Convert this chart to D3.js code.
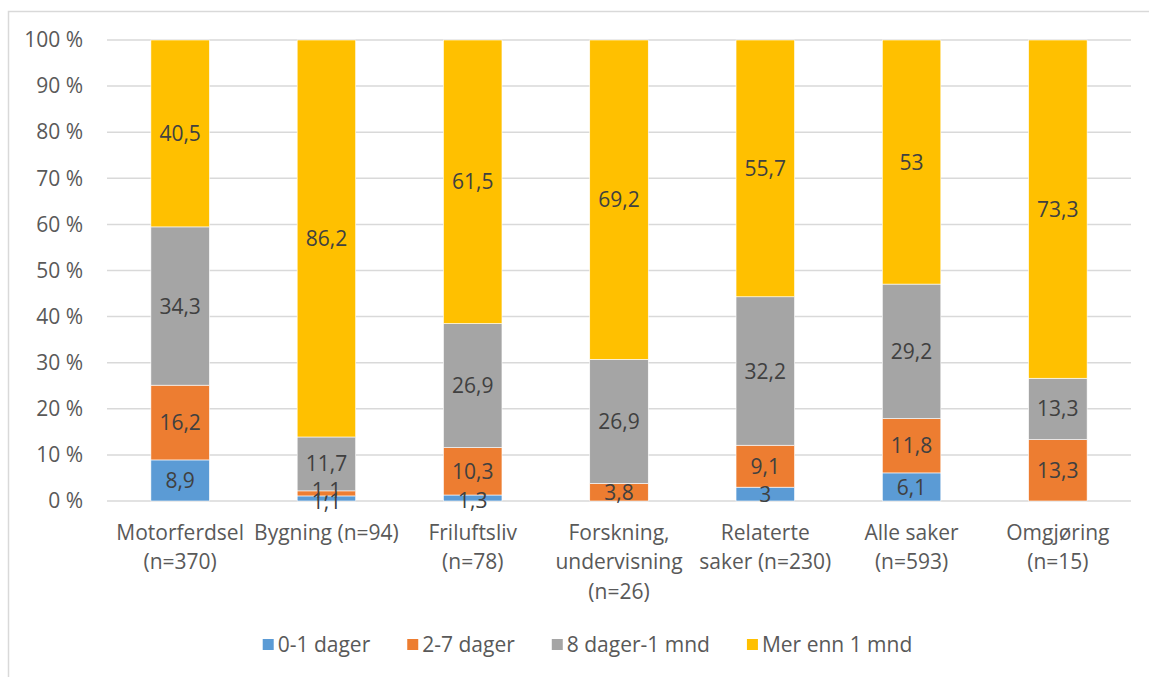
<!DOCTYPE html>
<html><head><meta charset="utf-8">
<script src="https://cdn.jsdelivr.net/npm/d3@7"></script>
<style>
html,body{margin:0;padding:0;background:#fff;}
svg{display:block;font-family:"Open Sans",sans-serif;}
</style></head>
<body><svg id="c" width="1149" height="677"></svg>
<script>
const categories = [
  ["Motorferdsel", "(n=370)"],
  ["Bygning (n=94)"],
  ["Friluftsliv", "(n=78)"],
  ["Forskning,", "undervisning", "(n=26)"],
  ["Relaterte", "saker (n=230)"],
  ["Alle saker", "(n=593)"],
  ["Omgjøring", "(n=15)"]
];
const seriesNames = ["0-1 dager", "2-7 dager", "8 dager-1 mnd", "Mer enn 1 mnd"];
const d01   = [8.9, 1.1, 1.3, 0,    3,    6.1,  0];
const d27   = [16.2, 1.1, 10.3, 3.8, 9.1, 11.8, 13.3];
const d8m   = [34.3, 11.7, 26.9, 26.9, 32.2, 29.2, 13.3];
const dmer  = [40.5, 86.2, 61.5, 69.2, 55.7, 53, 73.3];
const yTickValues = [0, 0.1, 0.2, 0.3, 0.4, 0.5, 0.6, 0.7, 0.8, 0.9, 1];
const yTickLabels = ["0 %","10 %","20 %","30 %","40 %","50 %","60 %","70 %","80 %","90 %","100 %"];
const colors = ["#5B9BD5", "#ED7D31", "#A5A5A5", "#FFC000"];

const seriesData = [d01, d27, d8m, dmer];
const rows = categories.map((c, i) => {
  const r = {key: i};
  seriesNames.forEach((s, j) => r[s] = seriesData[j][i]);
  return r;
});

const svg = d3.select("#c");
const pLeft = 107, pRight = 1131, pTop = 40, pBottom = 501;
const FS = "21px";

// outer border (top & left)
svg.append("path").attr("d", "M8.5,677 V11.5 H1149")
  .attr("fill", "none").attr("stroke", "#D9D9D9").attr("stroke-width", 1.5);

const x = d3.scaleBand().domain(d3.range(categories.length)).range([pLeft, pRight]).paddingInner(0.6).paddingOuter(0.3);
const y = d3.scaleLinear().domain([0, 1]).range([pBottom, pTop]);

// gridlines
svg.append("g").selectAll("line").data(yTickValues).join("line")
  .attr("x1", pLeft).attr("x2", pRight)
  .attr("y1", d => y(d)).attr("y2", d => y(d))
  .attr("stroke", "#D9D9D9").attr("stroke-width", 1.5);

// y axis labels
const yAxis = d3.axisLeft(y).tickValues(yTickValues).tickFormat((d, i) => yTickLabels[i]).tickSize(0).tickPadding(24);
const ga = svg.append("g").attr("transform", `translate(${pLeft},0)`).call(yAxis);
ga.select(".domain").remove();
ga.selectAll("text").attr("fill", "#595959").style("font-size", FS).style("font-family", "'Open Sans',sans-serif");

const stack = d3.stack().keys(seriesNames).offset(d3.stackOffsetExpand);
const stacked = stack(rows);

const g = svg.append("g");
stacked.forEach((s, j) => {
  g.append("g").selectAll("rect").data(s).join("rect")
    .attr("x", (d, i) => x(i))
    .attr("width", x.bandwidth())
    .attr("y", d => y(d[1]))
    .attr("height", d => y(d[0]) - y(d[1]))
    .attr("fill", colors[j])
    .attr("stroke", "#fff").attr("stroke-width", 0.6);
});

// data labels (tiny neighbouring segments get labels nudged apart, as the original does)
stacked.forEach((s, j) => {
  g.append("g").selectAll("text").data(s.filter((d, i) => seriesData[j][i] > 0)).join("text")
    .attr("x", d => x(d.data.key) + x.bandwidth() / 2)
    .attr("y", d => {
      const c = y((d[0] + d[1]) / 2);
      const small = (d[1] - d[0]) < 0.02;
      if (!small) return c;
      return j === 0 ? c + 2.5 : c - 2.5;
    })
    .attr("dy", "0.36em")
    .attr("text-anchor", "middle")
    .attr("fill", "#404040")
    .style("font-size", FS)
    .text(d => String(seriesData[j][d.data.key]).replace(".", ","));
});

// category labels
const cg = svg.append("g");
categories.forEach((lines, i) => {
  const t = cg.append("text").attr("text-anchor", "middle").attr("fill", "#595959").style("font-size", FS);
  lines.forEach((ln, k) => {
    t.append("tspan").attr("x", x(i) + x.bandwidth() / 2).attr("y", 539.5 + k * 29.5).text(ln);
  });
});

// legend
const lg = svg.append("g");
const items = seriesNames.map((s, j) => {
  const it = lg.append("g");
  it.append("rect").attr("width", 11).attr("height", 11).attr("y", -13).attr("fill", colors[j]);
  const tx = it.append("text").attr("x", 15).attr("y", 0).attr("fill", "#595959").style("font-size", FS).text(s);
  return {it, w: 15 + tx.node().getComputedTextLength()};
});
const gap = 37;
const total = d3.sum(items, d => d.w) + gap * (items.length - 1);
let cx = 587.5 - total / 2;
items.forEach(d => { d.it.attr("transform", `translate(${cx},${652})`); cx += d.w + gap; });
</script></body></html>
